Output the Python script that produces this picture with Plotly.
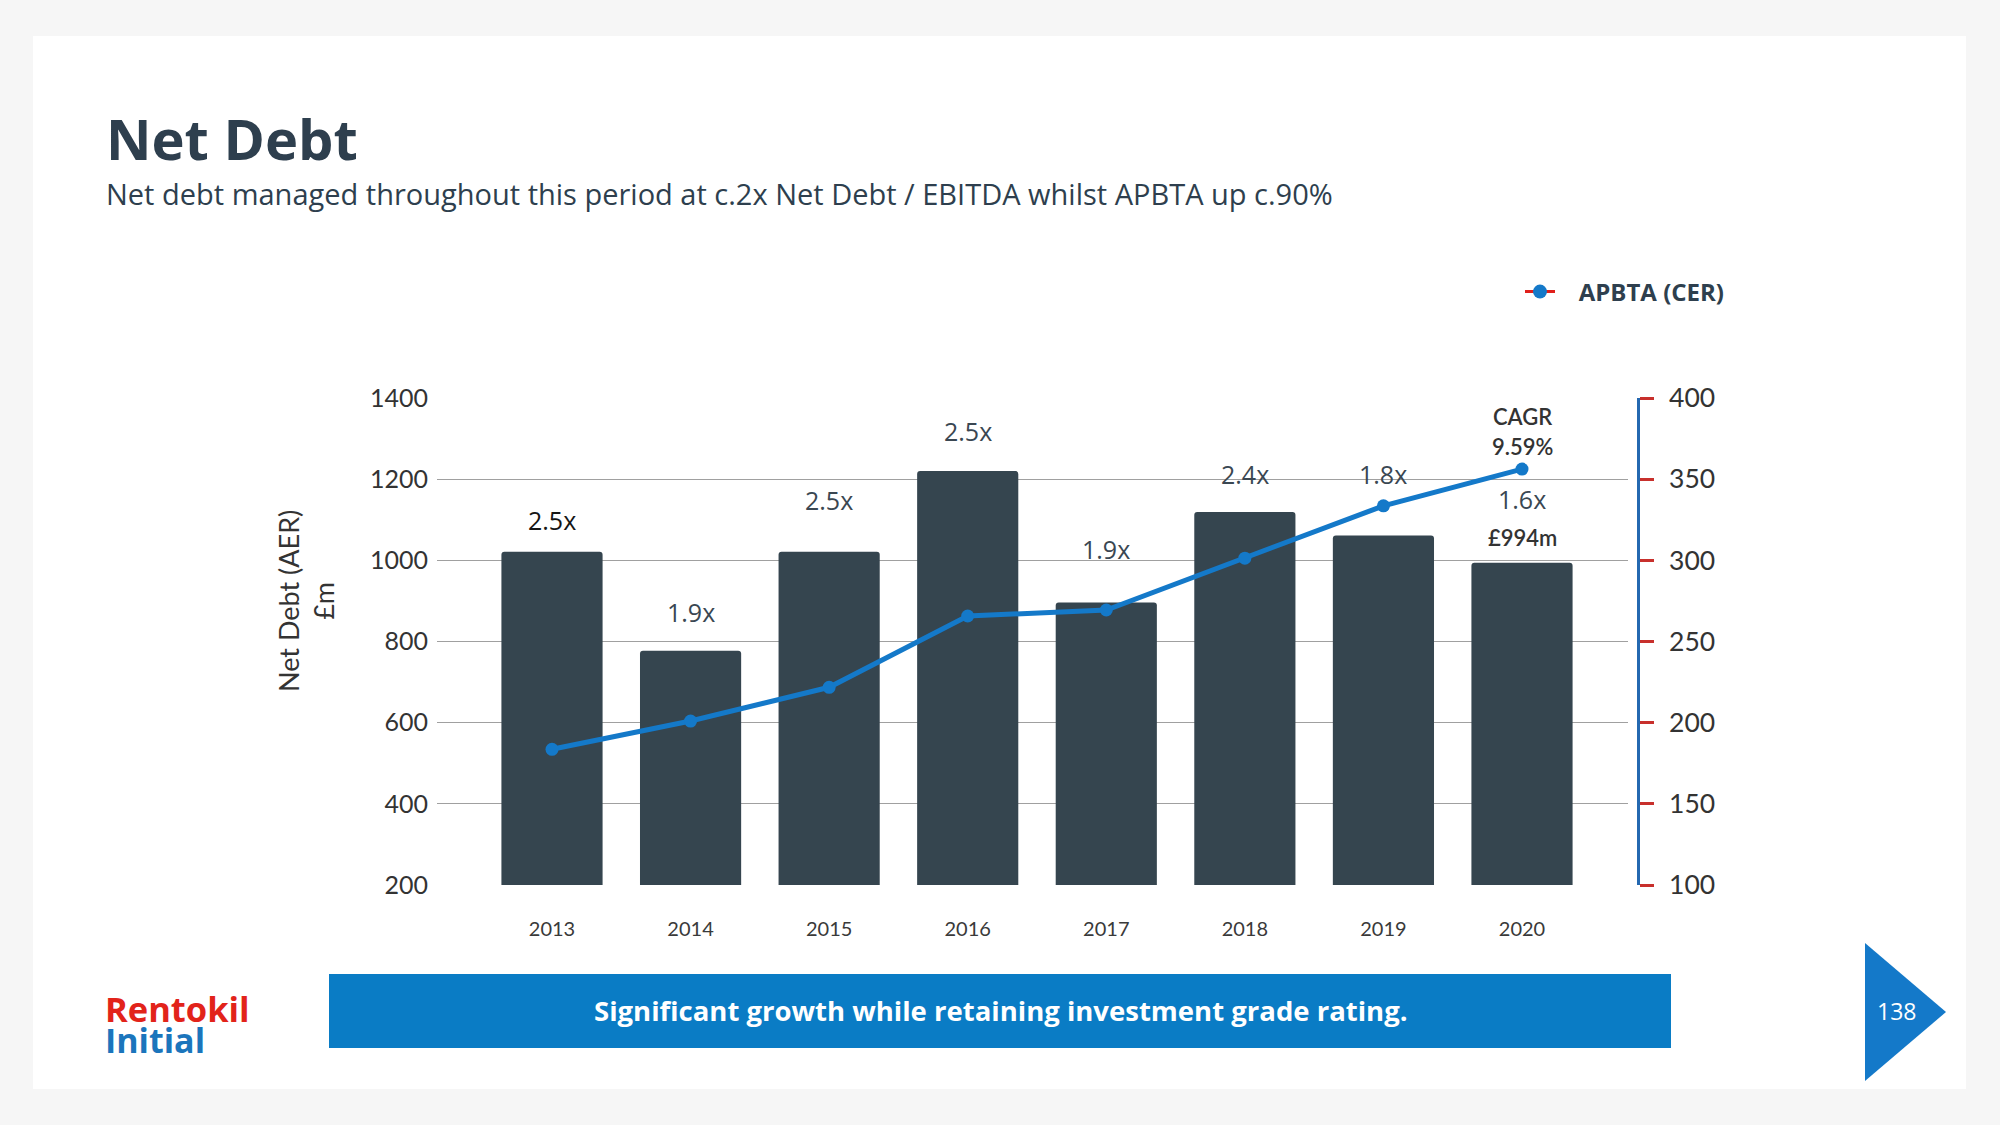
import plotly.graph_objects as go

# ---------------- data ----------------
years = ["2013", "2014", "2015", "2016", "2017", "2018", "2019", "2020"]
net_debt = [1021, 777, 1021, 1220, 896, 1119, 1061, 994]          # £m (AER), left axis
apbta = [183.6, 201.0, 221.8, 265.7, 269.4, 301.3, 333.6, 356.2]   # APBTA (CER), right axis
leverage = ["2.5x", "1.9x", "2.5x", "2.5x", "1.9x", "2.4x", "1.8x", "1.6x"]
left_ticks = [200, 400, 600, 800, 1000, 1200, 1400]
right_ticks = [100, 150, 200, 250, 300, 350, 400]

# ---------------- layout constants (px on a 2000x1125 page) ----------------
W, H = 2000, 1125
def px(x): return x / W
def py(y): return 1 - y / H

PLOT_L, PLOT_R, PLOT_T, PLOT_B = 437, 1628, 398, 885
RIGHT_AXIS_X = 1638
# vertical pixel offsets of leverage labels above bar tops
label_shift = [32, 39, 52, 40, 54, 38, 62, 63.5]

DARK = "#2E3F4E"
BAR = "#35454F"
BLUE = "#1479C9"
RED = "#E0201B"

fig = go.Figure()

fig.add_trace(go.Bar(
    x=years, y=net_debt, yaxis="y", width=0.73,
    marker=dict(color=BAR, cornerradius=3, line=dict(width=0)),
    showlegend=False, hoverinfo="skip",
))
fig.add_trace(go.Scatter(
    x=years, y=apbta, yaxis="y2", mode="lines+markers",
    line=dict(color=BLUE, width=5),
    marker=dict(color=BLUE, size=13),
    showlegend=False,
))
# legend entry (red line with blue dot), no data drawn
fig.add_trace(go.Scatter(
    x=[None], y=[None], yaxis="y2", mode="lines+markers",
    line=dict(color=RED, width=3),
    marker=dict(color=BLUE, size=14),
    name="\u00a0\u00a0\u00a0<b>APBTA (CER)</b>", showlegend=True,
))

annotations = []
# leverage labels above bars (x given as category index)
for i, (v, lab) in enumerate(zip(net_debt, leverage)):
    annotations.append(dict(
        x=i, y=v, xref="x", yref="y", text=lab, showarrow=False,
        yanchor="middle", yshift=label_shift[i],
        font=dict(family="Open Sans", size=25,
                  color="#151515" if i == 0 else "#3A4752"),
    ))
# extra labels on 2020
last = len(years) - 1
for txt, shift in [(f"£{net_debt[last]}m", 25), ("CAGR", 146), ("9.59%", 116)]:
    annotations.append(dict(x=last, y=net_debt[last], xref="x", yref="y",
                            text=txt, showarrow=False, yanchor="middle", yshift=shift,
                            font=dict(family="Lato", size=22, color="#333333", weight=600)))

# titles
annotations.append(dict(x=px(104), y=py(138), xref="paper", yref="paper", text="<b>Net Debt</b>",
                        showarrow=False, xanchor="left", yanchor="middle",
                        font=dict(family="Open Sans", size=56, color=DARK)))
annotations.append(dict(x=px(104), y=py(193), xref="paper", yref="paper",
                        text="Net debt managed throughout this period at c.2x Net Debt / EBITDA whilst APBTA up c.90%",
                        showarrow=False, xanchor="left", yanchor="middle",
                        font=dict(family="Open Sans", size=29, color=DARK)))
# y axis title
annotations.append(dict(x=px(306), y=py(601), xref="paper", yref="paper",
                        text="Net Debt (AER)<br>£m", textangle=-90, showarrow=False,
                        xanchor="center", yanchor="middle",
                        font=dict(family="Lato", size=27, color="#333333")))
# banner text
annotations.append(dict(x=px(1001), y=py(1011), xref="paper", yref="paper",
                        text="<b>Significant growth while retaining investment grade rating.</b>",
                        showarrow=False, xanchor="center", yanchor="middle",
                        font=dict(family="Open Sans", size=27.5, color="white")))
# page number
annotations.append(dict(x=px(1896), y=py(1011), xref="paper", yref="paper", text="138",
                        showarrow=False, xanchor="center", yanchor="middle",
                        font=dict(family="Open Sans", size=23, color="white")))
# logo
annotations.append(dict(x=px(103), y=py(1008), xref="paper", yref="paper", text="<b>Rentokil</b>",
                        showarrow=False, xanchor="left", yanchor="middle",
                        font=dict(family="Open Sans", size=34.5, color="#E2231A")))
annotations.append(dict(x=px(103), y=py(1040), xref="paper", yref="paper", text="<b>Initial</b>",
                        showarrow=False, xanchor="left", yanchor="middle",
                        font=dict(family="Open Sans", size=34, color="#1B75BC")))

shapes = [
    # white card
    dict(type="rect", xref="paper", yref="paper", x0=px(33), x1=px(1966), y0=py(36), y1=py(1089),
         fillcolor="white", line=dict(width=0), layer="below"),
    # banner
    dict(type="rect", xref="paper", yref="paper", x0=px(329), x1=px(1671), y0=py(974), y1=py(1048),
         fillcolor="#0A7CC5", line=dict(width=0), layer="below"),
    # page arrow
    dict(type="path", xref="paper", yref="paper",
         path=f"M {px(1865)},{py(943)} L {px(1946)},{py(1012)} L {px(1865)},{py(1081)} Z",
         fillcolor="#1479C9", line=dict(width=0), layer="below"),
]

n = len(years)
spacing = (1522 - 552) / (n - 1)
x_lo = -(552 - PLOT_L) / spacing
x_hi = (n - 1) + (PLOT_R - 1522) / spacing

fig.update_layout(
    width=W, height=H, margin=dict(l=0, r=0, t=0, b=0, pad=0, autoexpand=False),
    paper_bgcolor="#F6F6F6", plot_bgcolor="rgba(0,0,0,0)",
    showlegend=True,
    legend=dict(x=px(1520), y=py(292), xanchor="left", yanchor="middle",
                bgcolor="rgba(0,0,0,0)", itemwidth=30,
                font=dict(family="Open Sans", size=24, color=DARK)),
    xaxis=dict(domain=[px(PLOT_L), px(PLOT_R)], type="category", range=[x_lo, x_hi],
               automargin=False,
               showgrid=False, showline=False, zeroline=False,
               ticks="outside", ticklen=26, tickcolor="rgba(0,0,0,0)",
               tickfont=dict(family="Lato", size=20, color="#3A3A3A")),
    yaxis=dict(domain=[py(PLOT_B), py(PLOT_T)], range=[200, 1400], tickvals=left_ticks,
               automargin=False,
               showgrid=True, gridcolor="#A0A0A0", gridwidth=1.3,
               showline=False, zeroline=False,
               ticks="outside", ticklen=3, tickcolor="rgba(0,0,0,0)",
               tickfont=dict(family="Lato", size=25, color="#333333")),
    yaxis2=dict(overlaying="y", side="right", anchor="free", position=px(RIGHT_AXIS_X),
                automargin=False,
                range=[100, 400], tickvals=right_ticks, showgrid=False, zeroline=False,
                showline=True, linecolor="#2468B0", linewidth=2.5,
                ticks="outside", ticklen=14, tickwidth=2.5, tickcolor="#C8302C",
                ticklabelstandoff=10,
                tickfont=dict(family="Lato", size=26.5, color="#333333")),
    annotations=annotations, shapes=shapes,
)

fig.write_html("out.html", config={"displayModeBar": False},
               post_script="document.body.style.margin='0';document.body.style.overflow='hidden';")
